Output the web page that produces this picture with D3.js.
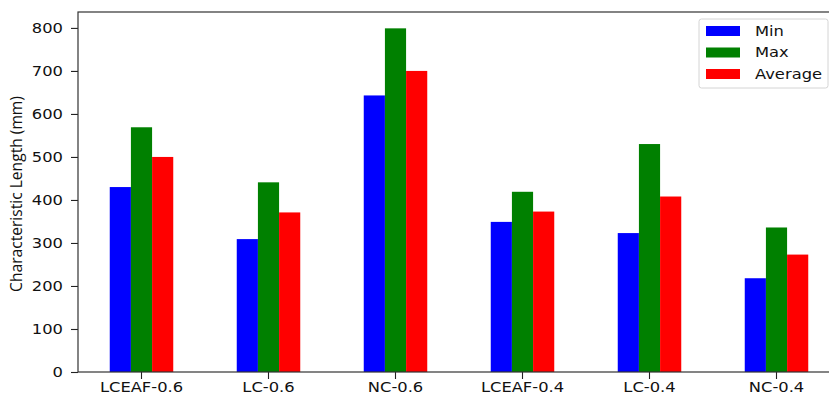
<!DOCTYPE html>
<html>
<head>
<meta charset="utf-8">
<script src="https://cdn.jsdelivr.net/npm/d3@7"></script>
<style>
  html, body { margin: 0; padding: 0; background: #fff; }
  svg { display: block; }
  text { font-family: "DejaVu Sans", sans-serif; fill: #111; }
</style>
</head>
<body>
<svg id="chart" width="829" height="393"></svg>
<script>
const categories = ["LCEAF-0.6", "LC-0.6", "NC-0.6", "LCEAF-0.4", "LC-0.4", "NC-0.4"];
const seriesNames = ["Min", "Max", "Average"];
const minValues = [430, 309, 643, 349, 323, 218];
const maxValues = [569, 441, 799, 419, 530, 336];
const avgValues = [500, 371, 700, 373, 408, 273];
const yTicks = [0, 100, 200, 300, 400, 500, 600, 700, 800];
const colors = ["#0000ff", "#008000", "#ff0000"];
const seriesValues = [minValues, maxValues, avgValues];

(function () {
const svg = d3.select("#chart");
const pLeft = 78, pRight = 840, pTop = 12, pBottom = 372;
const fs = 14.2, sx = 1.15;

const x = d3.scaleBand().domain(categories).range([pLeft, pRight]).paddingInner(0).paddingOuter(0);
const x1 = d3.scaleBand().domain(seriesNames).range([0, x.bandwidth() * 0.5]).padding(0);
const y = d3.scaleLinear().domain([0, 837]).range([pBottom, pTop]);

// bars
seriesNames.forEach((s, si) => {
  svg.append("g").selectAll("rect")
    .data(categories.map((c, i) => ({ c, v: seriesValues[si][i] })))
    .join("rect")
    .attr("x", d => x(d.c) + x.bandwidth() * 0.25 + x1(s))
    .attr("width", x1.bandwidth())
    .attr("y", d => y(d.v))
    .attr("height", d => y(0) - y(d.v))
    .attr("fill", colors[si]);
});

// y axis
const yAxis = d3.axisLeft(y).tickValues(yTicks).tickSize(7).tickPadding(8).tickFormat(d3.format("d"));
const gy = svg.append("g").attr("transform", `translate(${pLeft},0)`).call(yAxis);
gy.select(".domain").remove();
gy.selectAll(".tick line").attr("stroke", "#222").attr("stroke-width", 1.1);
gy.selectAll(".tick text").each(function () {
  const t = d3.select(this);
  const xx = +t.attr("x");
  t.attr("x", null).attr("dy", null)
   .attr("transform", `translate(${xx},0) scale(${sx},1)`)
   .attr("dominant-baseline", "central")
   .style("font-size", fs + "px").style("font-family", "DejaVu Sans").attr("fill", "#111");
});

// x axis
const xAxis = d3.axisBottom(x).tickSize(7).tickPadding(3);
const gx = svg.append("g").attr("transform", `translate(0,${pBottom})`).call(xAxis);
gx.select(".domain").remove();
gx.selectAll(".tick line").attr("stroke", "#222").attr("stroke-width", 1.1);
gx.selectAll(".tick text").each(function () {
  const t = d3.select(this);
  t.attr("y", null).attr("dy", null)
   .attr("transform", `translate(0,19.5) scale(${sx},1)`)
   .style("font-size", fs + "px").style("font-family", "DejaVu Sans").attr("fill", "#111");
});

// spines
svg.append("rect").attr("x", pLeft).attr("y", pTop).attr("width", pRight - pLeft).attr("height", pBottom - pTop)
  .attr("fill", "none").attr("stroke", "#333").attr("stroke-width", 1.2);

// y label
svg.append("text")
  .attr("transform", `translate(22,${(pTop + pBottom) / 2 + 2}) rotate(-90)`)
  .attr("text-anchor", "middle")
  .style("font-family", "Open Sans")
  .style("font-size", "15.6px")
  .text("Characteristic Length (mm)");

// legend
const lg = svg.append("g");
lg.append("rect").attr("x", 699).attr("y", 19).attr("width", 129).attr("height", 69)
  .attr("rx", 2.5).attr("fill", "#fff").attr("fill-opacity", 0.8).attr("stroke", "#d4d4d4").attr("stroke-width", 1);
seriesNames.forEach((s, i) => {
  const cy = 31 + i * 21.5;
  lg.append("rect").attr("x", 706).attr("y", cy - 5).attr("width", 34).attr("height", 10).attr("fill", colors[i]);
  lg.append("text").attr("transform", `translate(755,${cy}) scale(${sx},1)`)
    .attr("dominant-baseline", "central")
    .style("font-size", fs + "px").text(s);
});
})();
</script>
</body>
</html>
